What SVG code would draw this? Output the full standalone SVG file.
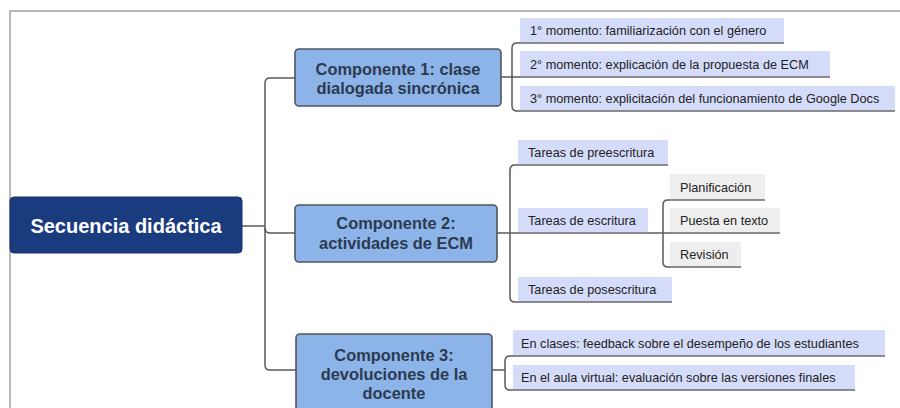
<svg xmlns="http://www.w3.org/2000/svg" width="900" height="408" viewBox="0 0 900 408">
<style>
.frame{fill:none;stroke:#a0a0a0;stroke-width:1.5}
.conn{fill:none;stroke:#5a5a5a;stroke-width:1.5}
.root{fill:#1b3b7f;stroke:#17336e;stroke-width:1}
.roott{font-family:"Liberation Sans",Arial,sans-serif;font-size:20px;font-weight:bold;fill:#ffffff;text-anchor:middle}
.comp{fill:#8db4e9;stroke:#4f5661;stroke-width:1.6}
.compt{font-family:"Liberation Sans",Arial,sans-serif;font-size:16.4px;font-weight:bold;fill:#2c3a4f;text-anchor:middle}
.leaf{fill:#d5dcfa}
.gleaf{fill:#eeeeee}
.ul{stroke:#6a6a6a;stroke-width:1.3}
.lt{font-family:"Liberation Sans",Arial,sans-serif;font-size:12.7px;fill:#222222}
</style>
<rect width="900" height="408" fill="#ffffff"/>
<path class="frame" d="M10,408 V11 H900"/>
<g id="connectors">
<path class="conn" d="M242,226 H265"/>
<path class="conn" d="M295,78 H270 Q265,78 265,83 V365 Q265,370 270,370 H296"/>
<path class="conn" d="M265,228 Q265,233 270,233 H295"/>
<path class="conn" d="M520,43 H517 Q512,43 512,48 V106 Q512,111 517,111 H520"/>
<path class="conn" d="M501,77 H520"/>
<path class="conn" d="M518,165 H515 Q510,165 510,170 V297 Q510,302 515,302 H518"/>
<path class="conn" d="M497,233 H518"/>
<path class="conn" d="M670,200 H668 Q663,200 663,205 V262 Q663,267 668,267 H670"/>
<path class="conn" d="M648,233 H670"/>
<path class="conn" d="M513,356 H510 Q505,356 505,361 V385 Q505,390 510,390 H513"/>
<path class="conn" d="M492,370 H505"/>
</g>
<g id="root">
<rect class="root" x="10" y="197" width="232" height="56" rx="4"/>
<text class="roott" x="126" y="233">Secuencia didáctica</text>
</g>
<g id="comp1">
<rect class="comp" x="295" y="49" width="206" height="57" rx="4"/>
<text class="compt" x="398" y="75">Componente 1: clase</text>
<text class="compt" x="398" y="94">dialogada sincrónica</text>
</g>
<g id="comp2">
<rect class="comp" x="295" y="205" width="202" height="57" rx="4"/>
<text class="compt" x="396" y="229">Componente 2:</text>
<text class="compt" x="396" y="249">actividades de ECM</text>
</g>
<g id="comp3">
<rect class="comp" x="296" y="334" width="196" height="90" rx="4"/>
<text class="compt" x="394" y="361">Componente 3:</text>
<text class="compt" x="394" y="380">devoluciones de la</text>
<text class="compt" x="394" y="399">docente</text>
</g>
<g id="m1">
<rect class="leaf" x="520" y="18" width="264" height="25"/>
<line class="ul" x1="520" y1="43" x2="784" y2="43"/>
<text class="lt" x="530" y="35">1° momento: familiarización con el género</text>
</g>
<g id="m2">
<rect class="leaf" x="520" y="51" width="310" height="26"/>
<line class="ul" x1="520" y1="77" x2="830" y2="77"/>
<text class="lt" x="530" y="69">2° momento: explicación de la propuesta de ECM</text>
</g>
<g id="m3">
<rect class="leaf" x="520" y="86" width="375" height="25"/>
<line class="ul" x1="520" y1="111" x2="895" y2="111"/>
<text class="lt" x="530" y="103">3° momento: explicitación del funcionamiento de Google Docs</text>
</g>
<g id="t1">
<rect class="leaf" x="518" y="140" width="150" height="25"/>
<line class="ul" x1="518" y1="165" x2="668" y2="165"/>
<text class="lt" x="528" y="157">Tareas de preescritura</text>
</g>
<g id="t2">
<rect class="leaf" x="518" y="208" width="130" height="25"/>
<line class="ul" x1="518" y1="233" x2="648" y2="233"/>
<text class="lt" x="528" y="225">Tareas de escritura</text>
</g>
<g id="t3">
<rect class="leaf" x="518" y="277" width="154" height="25"/>
<line class="ul" x1="518" y1="302" x2="672" y2="302"/>
<text class="lt" x="528" y="294">Tareas de posescritura</text>
</g>
<g id="p1">
<rect class="gleaf" x="670" y="174" width="95" height="26"/>
<line class="ul" x1="670" y1="200" x2="765" y2="200"/>
<text class="lt" x="680" y="192">Planificación</text>
</g>
<g id="p2">
<rect class="gleaf" x="670" y="208" width="110" height="25"/>
<line class="ul" x1="670" y1="233" x2="780" y2="233"/>
<text class="lt" x="680" y="225">Puesta en texto</text>
</g>
<g id="p3">
<rect class="gleaf" x="670" y="242" width="71" height="25"/>
<line class="ul" x1="670" y1="267" x2="741" y2="267"/>
<text class="lt" x="680" y="259">Revisión</text>
</g>
<g id="c1">
<rect class="leaf" x="513" y="330" width="372" height="26"/>
<line class="ul" x1="513" y1="356" x2="885" y2="356"/>
<text class="lt" x="521" y="348">En clases: feedback sobre el desempeño de los estudiantes</text>
</g>
<g id="c2">
<rect class="leaf" x="513" y="365" width="342" height="25"/>
<line class="ul" x1="513" y1="390" x2="855" y2="390"/>
<text class="lt" x="521" y="382">En el aula virtual: evaluación sobre las versiones finales</text>
</g>
</svg>
